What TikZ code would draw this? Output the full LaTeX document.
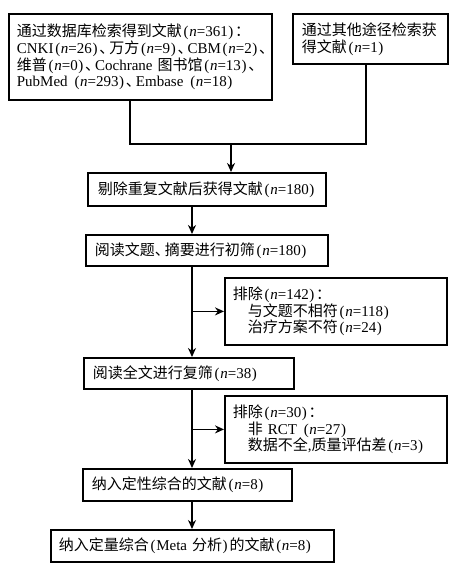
\documentclass[tikz,border=0pt]{standalone}
\usepackage{fontspec}
\setmainfont{Liberation Serif}
\newfontfamily\cjk{Noto Sans CJK SC}
\usetikzlibrary{arrows.meta}
\newcommand\zh[1]{{\cjk #1}}
\newcommand\nn{\textit{n}}
\newcommand\myl{\kern1.8pt(\kern0.6pt}
\newcommand\myr{\kern0.6pt)\kern1.8pt}
\newcommand\dunh{{\cjk 、}\kern-5pt}
\tikzset{
  bx/.style n args={3}{draw, line width=1.8pt, anchor=north west, align=left,
    inner ysep=0pt, inner xsep=#2, text width=#1, minimum height=#3,
    font=\fontsize{15}{16.8}\selectfont},
  conn/.style={line width=1.5pt},
  arr/.style={line width=1.5pt, -{Stealth[length=9pt,width=8pt]}}
}
\begin{document}
\begin{tikzpicture}[x=1pt,y=-1pt]
\useasboundingbox (0,0) rectangle (455,569);
\node[bx={247pt}{8pt}{86pt}] (b1) at (8,13)
  {\zh{通过数据库检索得到文献}\myl\nn=361\myr\zh{：}\\
   CNKI\myl\nn=26\myr\dunh\zh{万方}\myl\nn=9\myr\dunh CBM\myl\nn=2\myr\zh{、}\\
   \zh{维普}\myl\nn=0\myr\dunh Cochrane \zh{图书馆}\myl\nn=13\myr\zh{、}\\
   PubMed \myl\nn=293\myr\dunh Embase \myl\nn=18\myr};
\node[bx={137pt}{9pt}{50pt}] (b2) at (292,13)
  {\zh{通过其他途径检索获}\\ \zh{得文献}\myl\nn=1\myr};
\node[bx={218pt}{10pt}{33pt}] (b3) at (87,172)
  {\zh{剔除重复文献后获得文献}\myl\nn=180\myr};
\node[bx={224pt}{9pt}{31pt}] (b4) at (85,234)
  {\zh{阅读文题}\dunh\zh{摘要进行初筛}\myl\nn=180\myr};
\node[bx={206pt}{8pt}{67pt}] (b6) at (224,277)
  {\zh{排除}\myl\nn=142\myr\zh{：}\\
   \hspace*{15pt}\zh{与文题不相符}\myl\nn=118\myr\\
   \hspace*{15pt}\zh{治疗方案不符}\myl\nn=24\myr};
\node[bx={192pt}{9pt}{31pt}] (b5) at (83,357)
  {\zh{阅读全文进行复筛}\myl\nn=38\myr};
\node[bx={206pt}{8pt}{67pt}] (b7) at (224,395)
  {\zh{排除}\myl\nn=30\myr\zh{：}\\
   \hspace*{15pt}\zh{非} RCT \myl\nn=27\myr\\
   \hspace*{15pt}\zh{数据不全},\zh{质量评估差}\myl\nn=3\myr};
\node[bx={191pt}{9pt}{32pt}] (b8) at (82,468)
  {\zh{纳入定性综合的文献}\myl\nn=8\myr};
\node[bx={267pt}{8pt}{32pt}] (b9) at (50,529)
  {\zh{纳入定量综合}\myl Meta \zh{分析}\myr\zh{的文献}\myl\nn=8\myr};
\coordinate (j1) at (130,144);
\coordinate (j2) at (366,144);
\coordinate (jm) at (231,144);
\coordinate (ax) at (192,0);
\draw[conn] (b1.south -| j1) -- (j1) -- (j2) -- (b2.south -| j2);
\draw[arr] (jm) -- (b3.north -| jm);
\draw[arr] (b3.south -| ax) -- (b4.north -| ax);
\draw[arr] (b4.south -| ax) -- (b5.north -| ax);
\draw[arr] (b6.west -| ax) -- (b6.west);
\draw[arr] (b5.south -| ax) -- (b8.north -| ax);
\draw[arr] (b7.west -| ax) -- (b7.west);
\draw[arr] (b8.south -| ax) -- (b9.north -| ax);
\end{tikzpicture}
\end{document}
